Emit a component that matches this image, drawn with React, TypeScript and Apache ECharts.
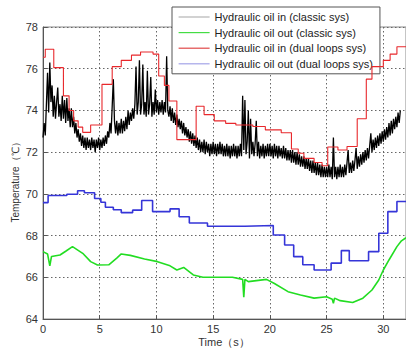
import React, { useEffect, useRef } from "react";
import * as echarts from "echarts";

const seriesNames = [
  "Hydraulic oil in (classic sys)",
  "Hydraulic oil out (classic sys)",
  "Hydraulic oil in (dual loops sys)",
  "Hydraulic oil out (dual loops sys)",
];

const yTicks = { min: 64, max: 78, interval: 2 };
const xTicks = { min: 0, max: 32, interval: 5 };

// classic sys oil in: sampled every 0.1 s from t = 0
const classicInStep = 0.1;
const classicIn = [
  72.7, 73.4, 72.8, 74.3, 75.8, 73.9, 76.3, 74.4, 75.2, 73.7,
  74.7, 73.6, 74.4, 75.1, 73.7, 74.3, 73.5, 74.7, 73.6, 74.5,
  73.4, 74.6, 73.5, 74.1, 73.2, 74.1, 73.2, 73.7, 72.9, 73.4,
  72.7, 73.1, 72.5, 72.9, 72.3, 72.8, 72.2, 72.7, 72.1, 72.7,
  72.2, 72.6, 72.1, 72.7, 72.2, 72.6, 72.0, 72.6, 72.2, 72.7,
  72.1, 72.6, 72.2, 72.7, 72.3, 72.8, 72.4, 73.0, 72.7, 73.4,
  72.9, 74.2, 75.5, 73.5, 72.9, 73.5, 72.8, 73.4, 72.9, 73.6,
  72.9, 73.5, 73.0, 73.7, 73.1, 74.0, 73.3, 73.9, 73.5, 74.1,
  73.6, 74.3, 76.1, 73.8, 74.4, 76.4, 73.8, 74.3, 76.2, 73.8,
  74.4, 73.7, 75.9, 73.8, 74.3, 75.6, 73.7, 74.4, 73.8, 75.0,
  73.9, 74.5, 73.8, 74.4, 73.9, 74.5, 73.8, 74.4, 73.9, 76.6,
  74.0, 73.7, 74.2, 73.5, 74.1, 73.4, 73.9, 73.3, 73.8, 73.2,
  73.6, 73.1, 73.5, 72.9, 73.4, 72.8, 73.2, 72.7, 73.1, 72.5,
  73.0, 72.4, 72.9, 72.3, 72.8, 72.2, 72.7, 72.1, 72.6, 72.0,
  72.5, 72.0, 72.6, 71.9, 72.5, 72.0, 72.4, 71.8, 72.4, 71.9,
  72.5, 71.9, 72.4, 71.8, 72.4, 71.9, 72.5, 71.9, 72.4, 71.8,
  72.3, 71.8, 72.4, 71.8, 72.3, 71.7, 72.3, 71.8, 72.4, 71.8,
  72.3, 71.7, 72.3, 71.8, 72.4, 71.8, 74.7, 72.1, 74.5, 71.9,
  72.5, 74.0, 71.7, 73.6, 71.9, 72.5, 71.8, 72.4, 73.5, 71.8,
  72.5, 71.7, 72.3, 71.8, 72.4, 71.7, 72.3, 71.8, 72.4, 71.8,
  72.4, 71.8, 72.3, 71.7, 72.4, 71.8, 72.3, 71.7, 72.3, 71.8,
  72.2, 71.7, 72.3, 71.7, 72.2, 71.6, 72.1, 71.6, 72.1, 71.5,
  72.1, 71.5, 72.0, 71.4, 72.0, 71.4, 71.9, 71.3, 71.8, 71.3,
  71.8, 71.2, 71.7, 71.2, 71.7, 71.1, 71.6, 71.0, 71.6, 71.0,
  71.5, 70.9, 71.5, 70.9, 71.4, 70.8, 71.4, 70.8, 71.3, 70.8,
  71.3, 70.8, 71.4, 70.8, 71.3, 70.7, 72.7, 70.8, 71.3, 70.7,
  71.3, 70.8, 71.4, 70.8, 71.3, 70.8, 71.4, 70.9, 71.5, 72.1,
  71.0, 71.5, 71.0, 71.6, 71.1, 71.6, 72.2, 71.2, 71.8, 71.3,
  71.9, 71.4, 72.0, 71.5, 72.1, 71.6, 72.2, 71.7, 72.3, 72.9,
  72.0, 72.6, 72.1, 72.7, 72.2, 72.8, 72.3, 72.9, 72.4, 73.0,
  72.5, 73.1, 72.6, 73.2, 72.7, 73.4, 72.8, 73.5, 72.9, 73.6,
  73.1, 73.7, 73.2, 73.9, 73.4, 74.0,
];

// classic sys oil out: [time, temperature]
const classicOutT = [0, 0.4, 0.6, 0.75, 1.5, 2.0, 2.6, 3.5, 4.2, 4.8, 5.8, 6.5, 6.9, 7.7, 8.95, 10.1, 11.2, 11.8, 12.4, 13.25, 14.1, 15.7, 16.7, 17.6, 17.7, 17.8, 18.1, 19.7, 20.4, 21.6, 22.7, 23.9, 25.0, 25.5, 25.6, 25.7, 26.2, 27.3, 28.2, 29.0, 29.6, 30.0, 30.5, 31.2, 31.6, 32];
const classicOutV = [67.23, 67.12, 66.55, 67.0, 67.07, 67.25, 67.47, 67.15, 66.75, 66.59, 66.6, 66.92, 67.12, 67.05, 66.88, 66.75, 66.55, 66.35, 66.47, 66.11, 66.0, 66.0, 66.0, 65.9, 65.05, 65.9, 65.79, 65.9, 65.7, 65.31, 65.15, 65.0, 65.07, 64.95, 64.75, 65.0, 64.88, 64.79, 65.0, 65.39, 65.87, 66.35, 66.83, 67.47, 67.75, 67.9];

// dual loops sys oil in: step segments [start time, temperature]
const dualInT = [0, 0.2, 0.95, 1.8, 2.3, 2.7, 3.1, 3.5, 4.2, 5.2, 6.1, 6.9, 7.8, 8.6, 9.7, 10.2, 10.7, 11.1, 11.8, 13.5, 14.2, 15.1, 16.1, 17.0, 18.5, 19.6, 21.0, 21.9, 22.5, 23.0, 23.9, 24.6, 25.1, 26.0, 26.8, 27.7, 28.5, 29.0, 30.0, 30.6, 31.2, 32];
const dualInV = [76.55, 76.93, 76.05, 74.7, 74.0, 73.5, 73.2, 72.95, 73.3, 75.25, 76.1, 76.4, 76.65, 76.8, 76.7, 75.65, 75.2, 74.45, 72.6, 74.2, 73.8, 73.5, 73.38, 73.3, 73.23, 73.07, 72.93, 72.15, 71.95, 71.7, 71.5, 71.35, 72.25, 72.1, 72.27, 73.6, 75.5, 76.1, 76.4, 76.7, 77.05, 77.05];

// dual loops sys oil out: step segments [start time, temperature]
const dualOutT = [0, 0.45, 2.1, 3.05, 3.65, 4.55, 5.1, 5.5, 6.2, 6.9, 7.9, 8.7, 9.66, 11.2, 12.0, 12.9, 14.5, 17.8, 20.3, 21.3, 22.1, 22.9, 23.9, 25.4, 26.3, 27.0, 28.7, 29.6, 30.4, 31.2, 32];
const dualOutV = [69.58, 69.92, 69.98, 70.15, 70.05, 69.78, 69.6, 69.36, 69.24, 69.1, 69.22, 69.68, 69.15, 69.28, 68.9, 68.6, 68.45, 68.48, 68.03, 67.55, 66.99, 66.6, 66.35, 66.68, 67.28, 66.79, 67.23, 68.11, 69.15, 69.63, 69.63];

const pair = (ts: number[], vs: number[]) => ts.map((t, i) => [t, vs[i]]);

export default function App() {
  const ref = useRef<HTMLDivElement>(null);
  useEffect(() => {
    if (!ref.current) return;
    const chart = echarts.init(ref.current, undefined, { renderer: "svg" });
    const font = "Arial, 'Liberation Sans', sans-serif";
    const hiddenSymbol = { opacity: 0 };
    chart.setOption({
      animation: false,
      backgroundColor: "#fff",
      textStyle: { fontFamily: font },
      grid: {
        left: 43,
        top: 27,
        width: 371.8,
        height: 292,
        show: true,
        borderColor: "#8a8a8a",
        borderWidth: 1,
        backgroundColor: "transparent",
      },
      legend: {
        orient: "vertical",
        left: 172,
        top: 7,
        padding: [4, 7, 4, 6],
        itemWidth: 31,
        itemHeight: 12,
        itemGap: 3.6,
        backgroundColor: "#fff",
        borderColor: "#555",
        borderWidth: 1,
        itemStyle: hiddenSymbol,
        textStyle: { fontSize: 11, color: "#222", fontFamily: font, lineHeight: 12 },
        data: [
          { name: seriesNames[0], itemStyle: hiddenSymbol, lineStyle: { color: "#b4b4b4", width: 1.2 } },
          { name: seriesNames[1], itemStyle: hiddenSymbol, lineStyle: { color: "#44dd44", width: 1.2 } },
          { name: seriesNames[2], itemStyle: hiddenSymbol, lineStyle: { color: "#e04848", width: 1.2 } },
          { name: seriesNames[3], itemStyle: hiddenSymbol, lineStyle: { color: "#a4a4e8", width: 1.2 } },
        ],
      },
      xAxis: {
        type: "value",
        min: xTicks.min,
        max: xTicks.max,
        interval: xTicks.interval,
        axisLine: { lineStyle: { color: "#555" } },
        axisTick: { inside: true, length: 4, lineStyle: { color: "#555" } },
        axisLabel: { fontSize: 11, color: "#333", margin: 4, showMaxLabel: false },
        splitLine: { show: true, lineStyle: { color: "#666", type: [1.5, 2.5], width: 1 } },
      },
      yAxis: {
        type: "value",
        min: yTicks.min,
        max: yTicks.max,
        interval: yTicks.interval,
        axisLine: { show: true, lineStyle: { color: "#555" } },
        axisTick: { show: true, inside: true, length: 4, lineStyle: { color: "#555" } },
        axisLabel: { fontSize: 11, color: "#333", margin: 5 },
        splitLine: { show: true, lineStyle: { color: "#666", type: [1.5, 2.5], width: 1 } },
      },
      graphic: [
        {
          type: "text",
          x: 224,
          y: 342,
          style: {
            text: "Time（s）",
            fill: "#333",
            font: `11px ${font}`,
            align: "center",
            verticalAlign: "middle",
          },
        },
        {
          type: "text",
          x: 15,
          y: 180,
          rotation: Math.PI / 2,
          style: {
            text: "Temperature（℃）",
            fill: "#333",
            font: `10px ${font}`,
            align: "center",
            verticalAlign: "middle",
          },
        },
      ],
      series: [
        {
          name: seriesNames[0],
          type: "line",
          symbol: "none",
          data: classicIn.map((v, i) => [i * classicInStep, v]),
          lineStyle: { color: "#000", width: 1.3 },
          itemStyle: { color: "#000" },
          z: 2,
        },
        {
          name: seriesNames[1],
          type: "line",
          symbol: "none",
          data: pair(classicOutT, classicOutV),
          lineStyle: { color: "#22dd22", width: 1.6 },
          itemStyle: { color: "#22dd22" },
          z: 3,
        },
        {
          name: seriesNames[2],
          type: "line",
          symbol: "none",
          step: "end",
          data: pair(dualInT, dualInV),
          lineStyle: { color: "#e8282c", width: 1.1 },
          itemStyle: { color: "#e8282c" },
          z: 4,
        },
        {
          name: seriesNames[3],
          type: "line",
          symbol: "none",
          step: "end",
          data: pair(dualOutT, dualOutV),
          lineStyle: { color: "#3535d8", width: 1.6 },
          itemStyle: { color: "#3535d8" },
          z: 4,
        },
      ],
    });
    return () => chart.dispose();
  }, []);
  return (
    <div
      ref={ref}
      style={{ position: "fixed", left: 0, top: 0, width: 406, height: 351, background: "#fff" }}
    />
  );
}
